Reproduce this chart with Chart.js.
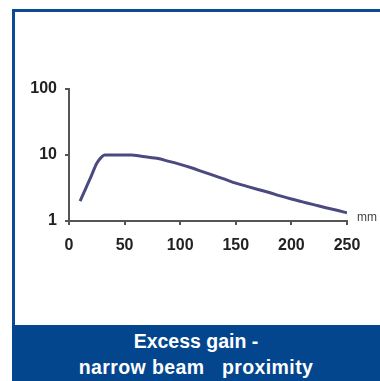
<!DOCTYPE html>
<html>
<head>
<meta charset="utf-8">
<script src="https://cdn.jsdelivr.net/npm/chart.js@4"></script>
<style>
  body { margin: 0; background: #fff; }
  #wrap { position: relative; width: 380px; height: 381px; overflow: hidden; }
  #frame {
    position: absolute; left: 12px; top: 9px; width: 368px; height: 372px;
    border-top: 3px solid #0a4b94; border-left: 3px solid #0a4b94; box-sizing: border-box;
  }
  #banner {
    position: absolute; left: 12px; top: 325px; width: 368px; height: 56px;
    background: #03468e; color: #fff; text-align: center;
    font: bold 19.5px "Liberation Sans", Arial, sans-serif; line-height: 26px;
    white-space: pre; padding-top: 3px; box-sizing: border-box;
  }
  #banner .l2 { letter-spacing: 0.4px; }
  canvas { position: absolute; left: 0; top: 0; }
</style>
</head>
<body>
<div id="wrap">
  <div id="frame"></div>
  <canvas id="gainChart" width="380" height="381"></canvas>
  <div id="banner">Excess gain -
<span class="l2">narrow beam   proximity</span></div>
</div>
<script>
// distance in mm vs excess gain (log)
const distances = [10, 15, 20, 25, 29, 32, 40, 50, 56, 65, 79, 90, 100, 110, 120, 130, 140, 150, 160, 170, 180, 190, 200, 210, 220, 230, 240, 250];
const gain = [2.0, 3.1, 4.8, 7.5, 9.2, 10, 10, 10, 10, 9.6, 8.9, 8.0, 7.2, 6.4, 5.6, 4.9, 4.3, 3.75, 3.35, 3.0, 2.7, 2.4, 2.15, 1.95, 1.77, 1.6, 1.47, 1.33];
const yTicks = [1, 10, 100];
const unitLabel = 'mm';

const ctx = document.getElementById('gainChart').getContext('2d');

const unitPlugin = {
    id: 'unitLabel',
    afterDraw(chart) {
        const c = chart.ctx;
        const area = chart.chartArea;
        c.save();
        c.font = '12px "Liberation Sans", Arial, sans-serif';
        c.fillStyle = '#444';
        c.textBaseline = 'middle';
        c.fillText(unitLabel, area.right + 10, area.bottom - 3);
        c.restore();
    }
};

const tickFont = { family: '"Liberation Sans", Arial, sans-serif', size: 16, weight: 'bold' };

new Chart(ctx, {
    type: 'line',
    data: {
        datasets: [{
            data: distances.map((d, i) => ({ x: d, y: gain[i] })),
            borderColor: '#4a4a80',
            borderWidth: 3,
            pointRadius: 0,
            cubicInterpolationMode: 'monotone',
            fill: false
        }]
    },
    options: {
        responsive: false,
        animation: false,
        layout: { padding: { left: 0, top: 89, right: 33, bottom: 130 } },
        plugins: { legend: { display: false }, tooltip: { enabled: false } },
        scales: {
            x: {
                type: 'linear',
                min: 0,
                max: 250,
                ticks: { stepSize: 50, color: '#222', font: tickFont, padding: 11 },
                grid: { drawOnChartArea: false, drawTicks: true, tickLength: 4, color: '#555', lineWidth: 2 },
                border: { color: '#555', width: 2 },
                afterFit(scale) { scale.height = 30; }
            },
            y: {
                type: 'logarithmic',
                min: 1,
                max: 100,
                afterBuildTicks(scale) { scale.ticks = yTicks.map(v => ({ value: v })); },
                ticks: { color: '#222', font: tickFont, padding: 8, callback: v => String(v) },
                grid: { drawOnChartArea: false, drawTicks: true, tickLength: 4, color: '#555', lineWidth: 2 },
                border: { color: '#555', width: 2 },
                afterFit(scale) { scale.width = 69; }
            }
        }
    },
    plugins: [unitPlugin]
});
</script>
</body>
</html>
